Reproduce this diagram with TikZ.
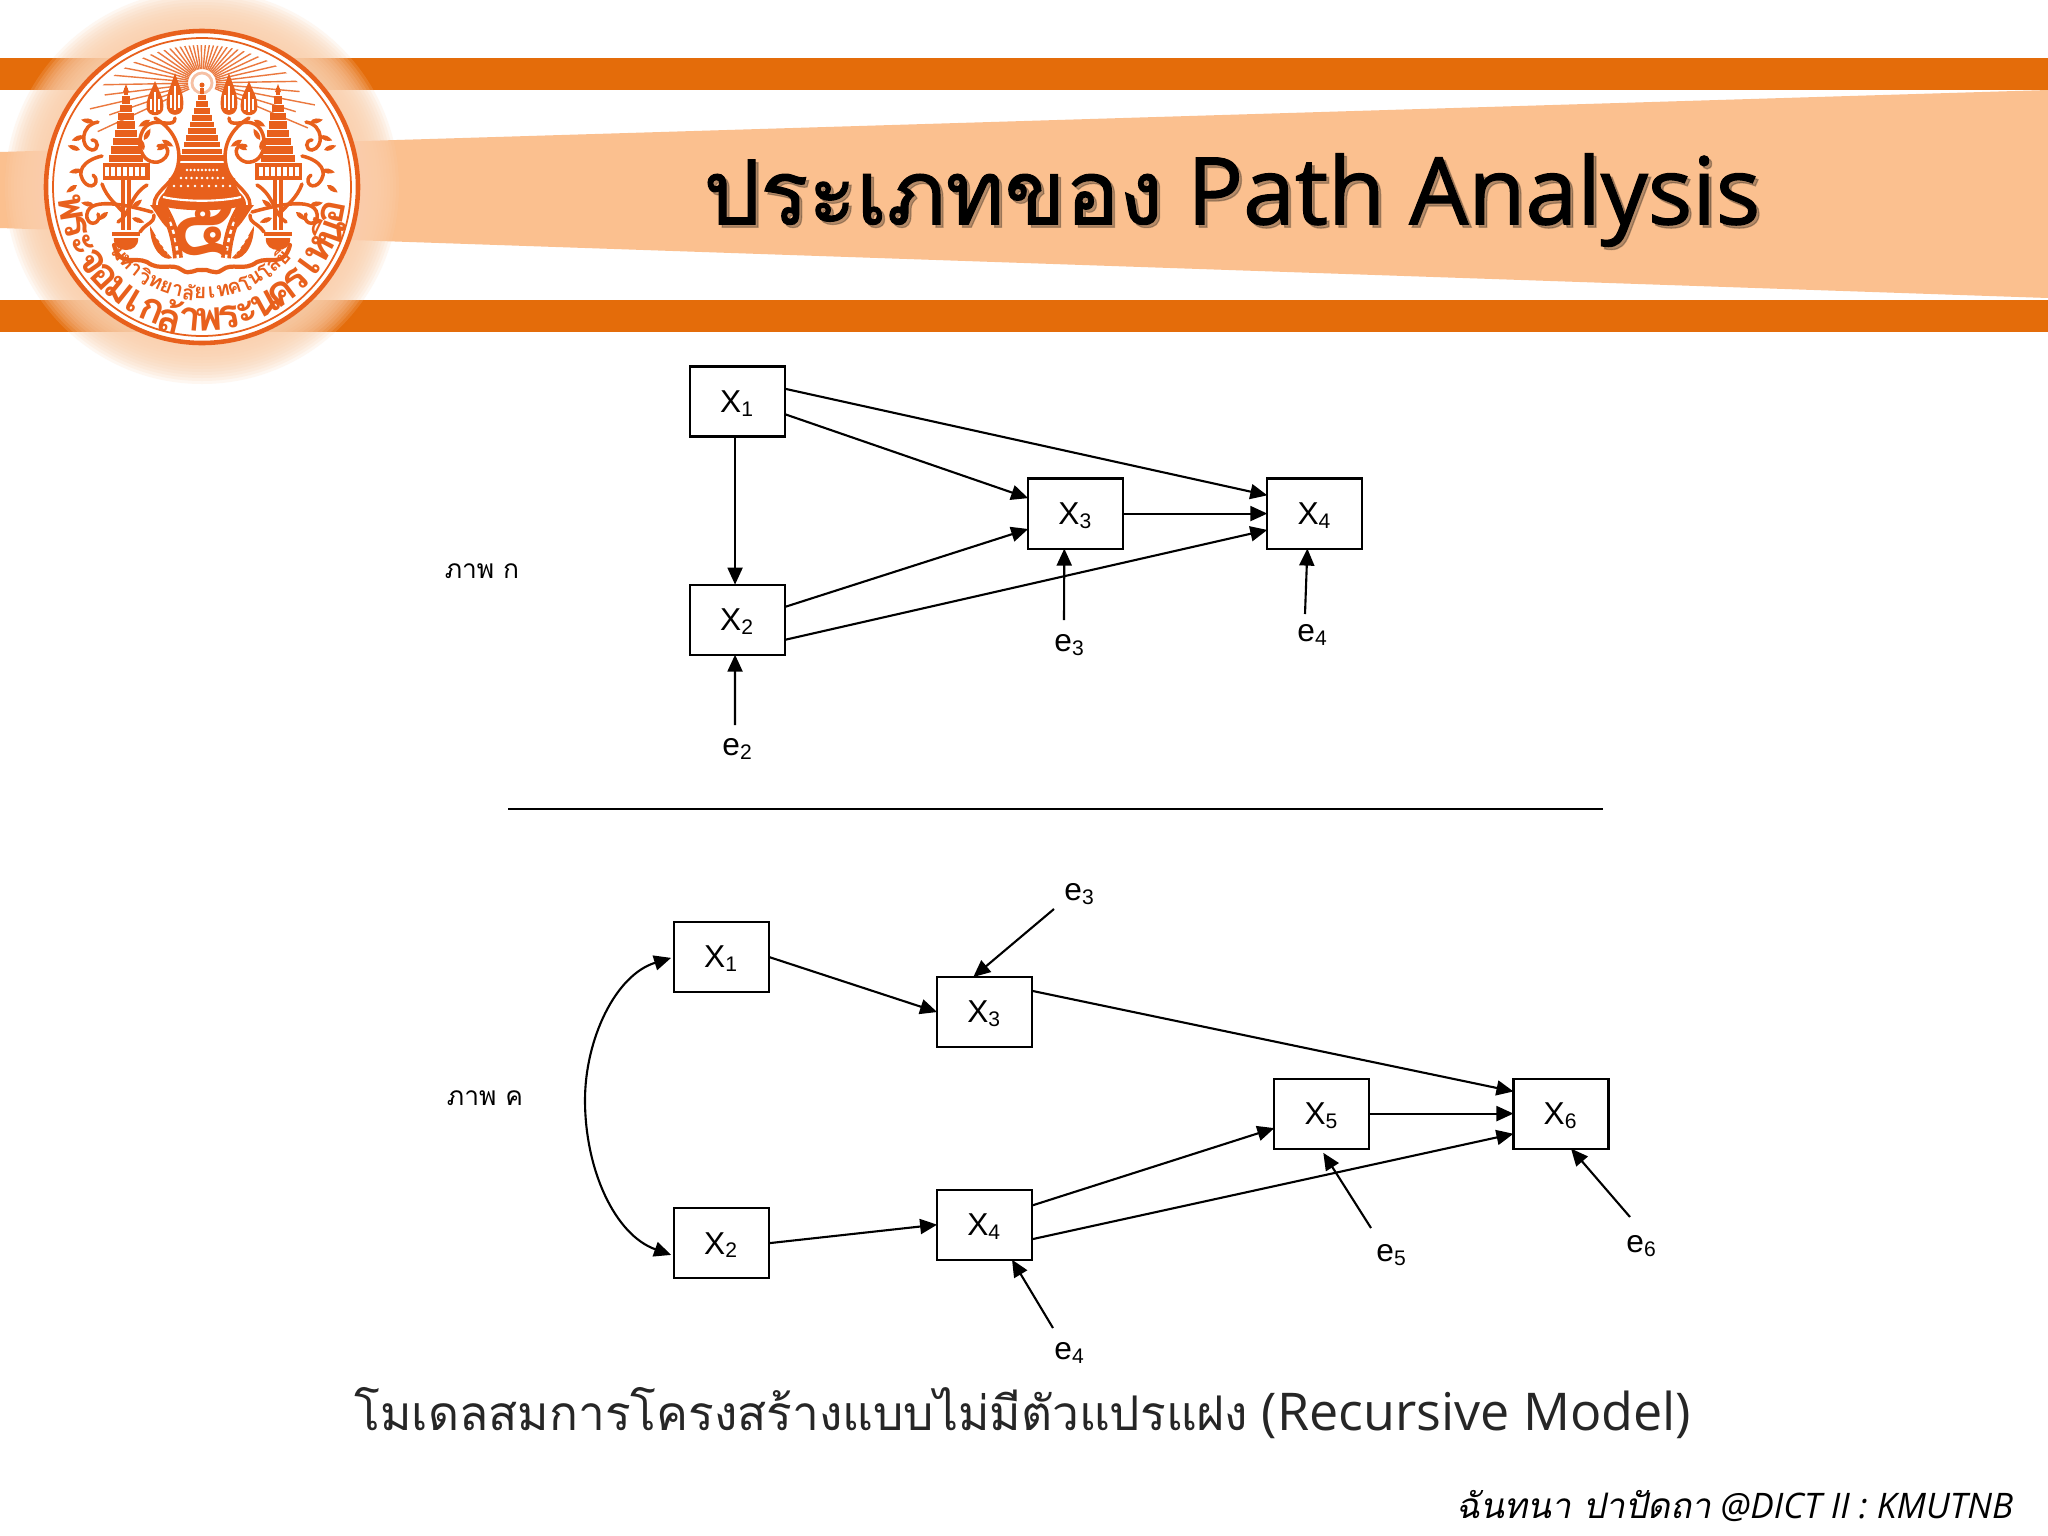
\documentclass[tikz,border=0pt]{standalone}
\usepackage{fontspec}
\setmainfont{Open Sans}
\setsansfont{Liberation Sans}
\newfontfamily\thaifont[Script=Thai]{Loma}
\newfontfamily\thaititle[Script=Thai,FakeBold=1.3]{Loma}
\newfontfamily\latintitle[FakeBold=1.4]{Open Sans}
\newfontfamily\thaislant[Script=Thai,FakeSlant=.2]{Loma}
\usetikzlibrary{positioning, arrows.meta}

\definecolor{barorange}{HTML}{E46C0A}
\definecolor{bandpeach}{HTML}{FBC08F}
\definecolor{sealorange}{HTML}{E8601C}
\definecolor{halopeach}{HTML}{FAD0AE}

% stacked tiers of a tower: x, top y, half width, height, tiers
\newcommand{\sealtower}[5]{%
  \foreach \k in {1,...,#5} {
    \fill[sealorange] ({#1-#3*\k/#5},{#2+#4*(\k-1)/#5}) rectangle ({#1+#3*\k/#5},{#2+#4*\k/#5-1.1});
  }
}
% flame bud of the seal: x, y, half height
\newcommand{\sealflame}[3]{%
  \fill[sealorange] (#1,#2-#3) .. controls (#1+4,#2-#3*.4) and (#1+10,#2) .. (#1+8,#2+#3*.6)
    .. controls (#1+6,#2+#3) and (#1-6,#2+#3) .. (#1-8,#2+#3*.6)
    .. controls (#1-10,#2) and (#1-4,#2-#3*.4) .. cycle;
  \draw[white, line width=.5pt] (#1,#2-#3*.4) -- (#1,#2+#3*.7) (#1-4,#2) -- (#1-4,#2+#3*.6) (#1+4,#2) -- (#1+4,#2+#3*.6);
}
% leaf of the vines: x, y, angle, length
\newcommand{\sealleaf}[4]{%
  \fill[sealorange, shift={(#1,#2)}, rotate=#3, scale=#4] (0,0) .. controls (.3,.3) and (.7,.2) .. (1,0)
    .. controls (.7,-.2) and (.3,-.3) .. (0,0);
}

\begin{document}
\begin{tikzpicture}[
  x=0.01cm, y=-0.01cm,
  varbox/.style={draw, minimum width=.95cm, minimum height=.7cm, outer sep=0pt, text depth=0pt,
                 line width=.6pt, inner sep=0pt, font=\sffamily\fontsize{9}{10}\selectfont},
  errlbl/.style={inner sep=0pt, font=\sffamily\fontsize{9}{10}\selectfont},
  figlbl/.style={inner sep=0pt, font=\thaifont\fontsize{7.5}{9}\selectfont},
  arr/.style={-{Triangle[length=.17cm, width=.15cm]}, line width=.6pt},
  vine/.style={draw=sealorange, line width=1pt, line cap=round},
  bigletter/.style={inner sep=0pt, text=sealorange, font=\thaifont\bfseries\fontsize{11.5}{12}\selectfont},
  smallletter/.style={inner sep=0pt, text=sealorange, font=\thaifont\bfseries\fontsize{5.8}{6}\selectfont},
  titletxt/.style={inner sep=0pt, font=\latintitle\fontsize{26.5}{30}\selectfont},
]
\useasboundingbox (0,0) rectangle (2048,1536);
\fill[white] (0,0) rectangle (2048,1536);

% Header
\fill[bandpeach] (0,152) -- (2048,90) -- (2048,298) -- (0,228) -- cycle;
\fill[barorange] (0,58) rectangle (2048,90);
\fill[barorange] (0,300) rectangle (2048,332);
\foreach \r in {197,194,...,160} {
  \fill[halopeach, opacity=.17] (202,187) circle (\r);
}

% Seal
\fill[white] (202,187) circle (158);
\draw[sealorange, line width=1.3pt] (202,187) circle (156);
\draw[sealorange, line width=.5pt] (202,187) circle (149);
\begin{scope}
  \clip (202,187) circle (142);
  \foreach \a [count=\i] in {-205,-199,...,25} {
    \pgfmathsetmacro{\len}{isodd(\i) ? 115 : 98}
    \draw[sealorange!85, line width=.4pt] ([shift={(\a:14)}]202,83) -- ([shift={(\a:\len)}]202,83);
  }
\end{scope}
\draw[sealorange!40, line width=.8pt, fill=white] (202,83) circle (10);

\foreach \s in {1,-1} {
  \begin{scope}[shift={(202,0)}, xscale=\s]
    % side tower, pole and urn
    \sealtower{-76}{88}{17}{75}{9}
    \fill[sealorange] (-76,84) -- (-73,92) -- (-79,92) -- cycle;
    \fill[sealorange] (-99.5,163) rectangle (-52.5,180);
    \foreach \k in {-95,-89,...,-57} {\fill[white] (\k-1.8,167) rectangle (\k+1.8,176);}
    \draw[sealorange, line width=.9pt] (-79,180) -- (-79,230) (-73,180) -- (-73,230);
    \fill[sealorange] (-90,232) rectangle (-62,236);
    \fill[sealorange] (-88,238) .. controls (-90,254) and (-62,254) .. (-64,238) -- cycle;
    % flames
    \sealflame{-27}{95}{22}
    \sealflame{-47}{99}{18}
    % vines
    \draw[vine] (-27,118) .. controls (-27,128) and (-42,120) .. (-50,123)
      .. controls (-68,128) and (-66,165) .. (-44,162) .. controls (-30,158) and (-32,142) .. (-44,146);
    \draw[vine] (-47,118) .. controls (-30,128) and (-20,145) .. (-24,165)
      .. controls (-28,185) and (-48,190) .. (-48,205);
    \draw[vine] (-55,185) .. controls (-72,195) and (-72,215) .. (-84,222);
    \draw[vine] (-104,122) .. controls (-122,125) and (-122,148) .. (-110,150)
      .. controls (-103,150) and (-103,140) .. (-110,140);
    \draw[vine] (-100,156) .. controls (-118,160) and (-128,172) .. (-116,184)
      .. controls (-108,190) and (-102,180) .. (-109,175);
    \draw[vine] (-50,212) .. controls (-75,205) and (-118,195) .. (-115,218)
      .. controls (-112,228) and (-100,222) .. (-104,214);
    \draw[vine] (-62,232) .. controls (-55,222) and (-48,224) .. (-48,215);
    \draw[vine] (-100,184) .. controls (-95,198) and (-85,205) .. (-79,212);
    \draw[vine, line width=1.2pt] (-88,245) .. controls (-82,268) and (-68,256) .. (-55,262)
      .. controls (-42,272) and (-30,262) .. (-20,270) .. controls (-12,276) and (-6,268) .. (0,270);
    \foreach \lx/\ly/\la in {-108/122/170,-118/136/200,-122/150/160,-120/170/190,-125/185/215,-108/205/170,-94/212/220,-40/140/-30,-45/150/30,-58/140/60,-58/150/110,-33/178/-60,-70/208/40,-70/218/-20,-52/120/-150} {
      \sealleaf{\lx}{\ly}{\la}{13}
    }
    % naga and its fin
    \draw[sealorange, line width=2.8pt] (-40,207) .. controls (-30,222) and (-26,238) .. (-24,258);
    \draw[white, line width=.7pt, dash pattern=on 1.2pt off 1.2pt] (-40,207) .. controls (-30,222) and (-26,238) .. (-24,258);
    \fill[sealorange] (-34,205) -- (-52,205) .. controls (-44,215) and (-40,225) .. (-32,230) -- cycle;
    \fill[sealorange] (-52,226) .. controls (-46,236) and (-40,248) .. (-30,258) .. controls (-38,262) and (-52,250) .. cycle;
    \draw[white, line width=.5pt, dash pattern=on 1pt off 1pt] (-46,236) -- (-34,254);
  \end{scope}
}
% central tower and its crown
\fill[sealorange] (202,85) circle (2.5);
\sealtower{202}{88}{22}{74}{11}
\fill[sealorange] (180,163) -- (224,163) -- (240,193) .. controls (246,198) and (246,203) .. (246,205)
  .. controls (225,212) and (179,212) .. (158,205) .. controls (158,203) and (158,198) .. (164,193) -- cycle;
\foreach \y/\w in {170/15,178/21,186/28} {
  \foreach \k in {-4,...,4} {\fill[white] ({202+\k*\w/4},\y) circle (1.3);}
}
\draw[white, line width=.6pt] (163,197) .. controls (185,202) and (219,202) .. (241,197);
\node[text=sealorange, inner sep=0pt, font=\thaifont\bfseries\fontsize{24}{24}\selectfont] (fivemark) at (202,230) {๕};

% Seal lettering
\foreach \ch [count=\i] in {พ,ร,ะ,จ,อ,ม,เ,ก,ล้,า,พ,ร,ะ,น,ค,ร,เ,ห,นื,อ} {
  \pgfmathsetmacro{\ang}{171-(\i-1)*160/19}
  \node[bigletter, rotate=90-\ang] (big\i) at ([shift={(\ang:133)}]202,187) {\ch};
}
\foreach \ch [count=\i] in {ม,ห,า,วิ,ท,ย,า,ลั,ย,เ,ท,ค,โ,น,โ,ล,ยี} {
  \pgfmathsetmacro{\ang}{141-(\i-1)*100/16}
  \node[smallletter, rotate=90-\ang] (small\i) at ([shift={(\ang:106)}]202,187) {\ch};
}

% Title with its shadow
\node[titletxt, text=black!70!bandpeach, opacity=.4] (titleshadow) at (1235,203)
  {{\thaititle\fontsize{25.4}{30}\selectfont ประเภทของ} Path Analysis};
\node[titletxt] (title) at (1232,200)
  {{\thaititle\fontsize{25.4}{30}\selectfont ประเภทของ} Path Analysis};

% Figure ka
\node[figlbl] (lblka) at (482,571) {ภาพ ก};
\node[varbox] (ax1) at (737.5,401.5) {X\textsubscript{1}};
\node[varbox, below=1.48cm of ax1] (ax2) {X\textsubscript{2}};
\node[varbox, below right=.42cm and 2.43cm of ax1] (ax3) {X\textsubscript{3}};
\node[varbox, right=1.44cm of ax3] (ax4) {X\textsubscript{4}};
\node[errlbl] (ae2) at (738,749) {e\textsubscript{2}};
\node[errlbl] (ae3) at (1070,645) {e\textsubscript{3}};
\node[errlbl] (ae4) at (1313,635) {e\textsubscript{4}};
\coordinate (ac2) at (735,725);
\coordinate (ac3) at (1064,620);
\coordinate (ac4) at (1305,614);

\draw[arr] (ax1.15.9) -- (ax4.159.2);
\draw[arr] (ax1.-15.9) -- (ax3.162.5);
\draw[arr] (ax1.-94) -- (ax2.94);
\draw[arr] (ax2.15.3) -- (ax3.198.6);
\draw[arr] (ax2.-23.8) -- (ax4.199.7);
\draw[arr] (ax3) -- (ax4);
\draw[arr] (ac2) -- (ax2.-94);
\draw[arr] (ac3) -- (ax3.-108.2);
\draw[arr] (ac4) -- (ax4.-102.9);

% Separator
\coordinate (sepl) at (508,809);
\coordinate (sepr) at (1603,809);
\draw[line width=.5pt] (sepl) -- (sepr);

% Figure kho
\node[figlbl] (lblkho) at (485,1098) {ภาพ ค};
\node[varbox] (bx1) at (721.5,957) {X\textsubscript{1}};
\node[varbox, below=2.16cm of bx1] (bx2) {X\textsubscript{2}};
\node[varbox, right=1.68cm of bx1, yshift=-.55cm] (bx3) {X\textsubscript{3}};
\node[varbox, right=1.68cm of bx2, yshift=.185cm] (bx4) {X\textsubscript{4}};
\node[varbox, right=2.42cm of bx4, yshift=1.11cm] (bx5) {X\textsubscript{5}};
\node[varbox, right=1.44cm of bx5] (bx6) {X\textsubscript{6}};
\node[errlbl] (be3) at (1080,894) {e\textsubscript{3}};
\node[errlbl] (be4) at (1070,1353) {e\textsubscript{4}};
\node[errlbl] (be5) at (1392,1255) {e\textsubscript{5}};
\node[errlbl] (be6) at (1642,1246) {e\textsubscript{6}};
\coordinate (bc3) at (1054,909);
\coordinate (bc4) at (1053,1328);
\coordinate (bc5) at (1371,1228);
\coordinate (bc6) at (1630,1217);

\draw[arr] (bx1.east) -- (bx3.west);
\draw[arr] (bx2.east) -- (bx4.west);
\draw[arr] (bx3.24.9) -- (bx6.155.6);
\draw[arr] (bx4.22.3) -- (bx5.197);
\draw[arr] (bx4.-17) -- (bx6.203.3);
\draw[arr] (bx5) -- (bx6);
\draw[arr] (bc3) -- (bx3.108.9);
\draw[arr] (bc4) -- (bx4.-52.4);
\draw[arr, shorten >=.05cm] (bc5) -- (bx5.-92);
\draw[arr] (bc6) -- (bx6.-74);
\draw[{Triangle[length=.17cm, width=.15cm]}-{Triangle[length=.17cm, width=.15cm]}, line width=.6pt, shorten <=.03cm, shorten >=.03cm]
  (bx1.west) .. controls (615,975) and (585,1040) .. (585,1100)
  .. controls (585,1170) and (615,1235) .. (bx2.195.3);

% Caption and credit
\node[inner sep=0pt, text=black!85, font=\fontsize{14.8}{18}\selectfont] (caption) at (1023,1413)
  {{\thaifont\fontsize{13.6}{18}\selectfont โมเดลสมการโครงสร้างแบบไม่มีตัวแปรแฝง} (Recursive Model)};
\node[inner sep=0pt, anchor=east, font=\fontsize{10}{12}\selectfont] (credit) at (2014,1506)
  {{\thaislant ฉันทนา ปาปัดถา} {\itshape @DICT II : KMUTNB}};
\end{tikzpicture}
\end{document}
